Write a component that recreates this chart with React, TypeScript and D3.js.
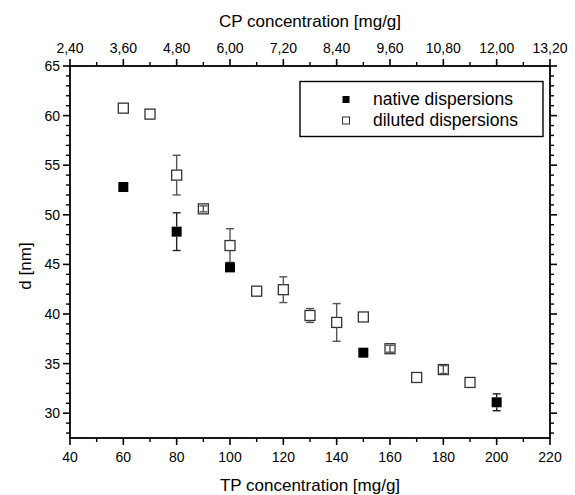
import * as d3 from "d3";

// TP concentration [mg/g] vs particle size d [nm]
const tpNative = [60, 80, 100, 150, 200];
const dNative = [52.8, 48.3, 44.7, 36.1, 31.1];
const errNative = [0, 1.9, 0, 0, 0.85];

const tpDiluted = [60, 70, 80, 90, 100, 110, 120, 130, 140, 150, 160, 170, 180, 190];
const dDiluted = [60.75, 60.15, 54.0, 50.6, 46.9, 42.3, 42.45, 39.85, 39.15, 39.7, 36.5, 33.6, 34.4, 33.1];
const errDiluted = [0, 0, 2.0, 0.3, 1.7, 0, 1.3, 0.7, 1.9, 0, 0.35, 0, 0.4, 0];

const xTicks = [40, 60, 80, 100, 120, 140, 160, 180, 200, 220];
const cpTicks = ["2,40", "3,60", "4,80", "6,00", "7,20", "8,40", "9,60", "10,80", "12,00", "13,20"];
const yTicks = [30, 35, 40, 45, 50, 55, 60, 65];

const legendLabels = ["native dispersions", "diluted dispersions"];

const W = 575;
const H = 495;
const margin = { top: 66, right: 25, bottom: 57, left: 70 };
const FONT = "'Liberation Sans', Arial, sans-serif";
const MS = 10; // marker size

export default function App() {
  const x = d3.scaleLinear().domain([40, 220]).range([margin.left, W - margin.right]);
  const y = d3.scaleLinear().domain([27.5, 65]).range([H - margin.bottom, margin.top]);
  const x0 = margin.left;
  const x1 = W - margin.right;
  const y0 = H - margin.bottom;
  const y1 = margin.top;

  const xMinor = d3.range(50, 220, 20);
  const yMinor = d3.range(28, 65, 1).filter((v) => v % 5 !== 0);

  const errorBar = (cx: number, cy: number, v: number, e: number, color: string, key: string) => {
    if (!e) return null;
    const top = y(v + e);
    const bot = y(v - e);
    const half = MS / 2;
    const small = cy - top < half;
    return (
      <g key={key} stroke={color} strokeWidth={1.4}>
        {small ? (
          <line x1={cx} x2={cx} y1={top} y2={bot} />
        ) : (
          <>
            <line x1={cx} x2={cx} y1={top} y2={cy - half} />
            <line x1={cx} x2={cx} y1={cy + half} y2={bot} />
          </>
        )}
        <line x1={cx - 4} x2={cx + 4} y1={top} y2={top} />
        <line x1={cx - 4} x2={cx + 4} y1={bot} y2={bot} />
      </g>
    );
  };

  return (
    <svg
      width={W}
      height={H}
      style={{ position: "absolute", left: 0, top: 0, background: "#fff" }}
      fontFamily={FONT}
    >
      {/* frame */}
      <rect x={x0} y={y1} width={x1 - x0} height={y0 - y1} fill="none" stroke="#000" strokeWidth={1.8} />

      {/* bottom + top ticks */}
      {xTicks.map((t, i) => (
        <g key={"xt" + t}>
          <line x1={x(t)} x2={x(t)} y1={y0} y2={y0 + 7} stroke="#000" strokeWidth={1.6} />
          <line x1={x(t)} x2={x(t)} y1={y1} y2={y1 - 7} stroke="#000" strokeWidth={1.6} />
          <text x={x(t)} y={462} fontSize={14} textAnchor="middle">{t}</text>
          <text x={x(t)} y={53} fontSize={14} textAnchor="middle">{cpTicks[i]}</text>
        </g>
      ))}
      {xMinor.map((t) => (
        <g key={"xm" + t} stroke="#000" strokeWidth={1.4}>
          <line x1={x(t)} x2={x(t)} y1={y0} y2={y0 + 4} />
          <line x1={x(t)} x2={x(t)} y1={y1} y2={y1 - 4} />
        </g>
      ))}

      {/* left + right ticks */}
      {yTicks.map((t) => (
        <g key={"yt" + t}>
          <line x1={x0} x2={x0 - 7} y1={y(t)} y2={y(t)} stroke="#000" strokeWidth={1.6} />
          <line x1={x1} x2={x1 + 7} y1={y(t)} y2={y(t)} stroke="#000" strokeWidth={1.6} />
          <text x={x0 - 10} y={y(t)} dy="0.36em" fontSize={14} textAnchor="end">{t}</text>
        </g>
      ))}
      {yMinor.map((t) => (
        <g key={"ym" + t} stroke="#000" strokeWidth={1.4}>
          <line x1={x0} x2={x0 - 4} y1={y(t)} y2={y(t)} />
          <line x1={x1} x2={x1 + 4} y1={y(t)} y2={y(t)} />
        </g>
      ))}

      {/* axis titles */}
      <text x={(x0 + x1) / 2} y={27} fontSize={17} textAnchor="middle">CP concentration [mg/g]</text>
      <text x={(x0 + x1) / 2} y={491} fontSize={17} textAnchor="middle">TP concentration [mg/g]</text>
      <text transform="translate(31,266) rotate(-90)" fontSize={17} textAnchor="middle">d [nm]</text>

      {/* diluted */}
      {tpDiluted.map((t, i) => (
        <rect
          key={"d" + i}
          x={x(t) - MS / 2}
          y={y(dDiluted[i]) - MS / 2}
          width={MS}
          height={MS}
          fill="#fff"
          stroke="#333"
          strokeWidth={1.3}
        />
      ))}
      {tpDiluted.map((t, i) => errorBar(x(t), y(dDiluted[i]), dDiluted[i], errDiluted[i], "#555", "de" + i))}

      {/* native */}
      {tpNative.map((t, i) => (
        <rect
          key={"n" + i}
          x={x(t) - MS / 2}
          y={y(dNative[i]) - MS / 2}
          width={MS}
          height={MS}
          fill="#000"
        />
      ))}
      {tpNative.map((t, i) => errorBar(x(t), y(dNative[i]), dNative[i], errNative[i], "#222", "ne" + i))}

      {/* legend */}
      <rect x={300} y={81.5} width={243} height={55} fill="#fff" stroke="#000" strokeWidth={1.4} />
      <rect x={342.5} y={96} width={7} height={7} fill="#000" />
      <rect x={342.5} y={117} width={7} height={7} fill="#fff" stroke="#333" strokeWidth={1} />
      <text x={373} y={105} fontSize={17.5}>{legendLabels[0]}</text>
      <text x={373} y={126} fontSize={17.5}>{legendLabels[1]}</text>
    </svg>
  );
}
